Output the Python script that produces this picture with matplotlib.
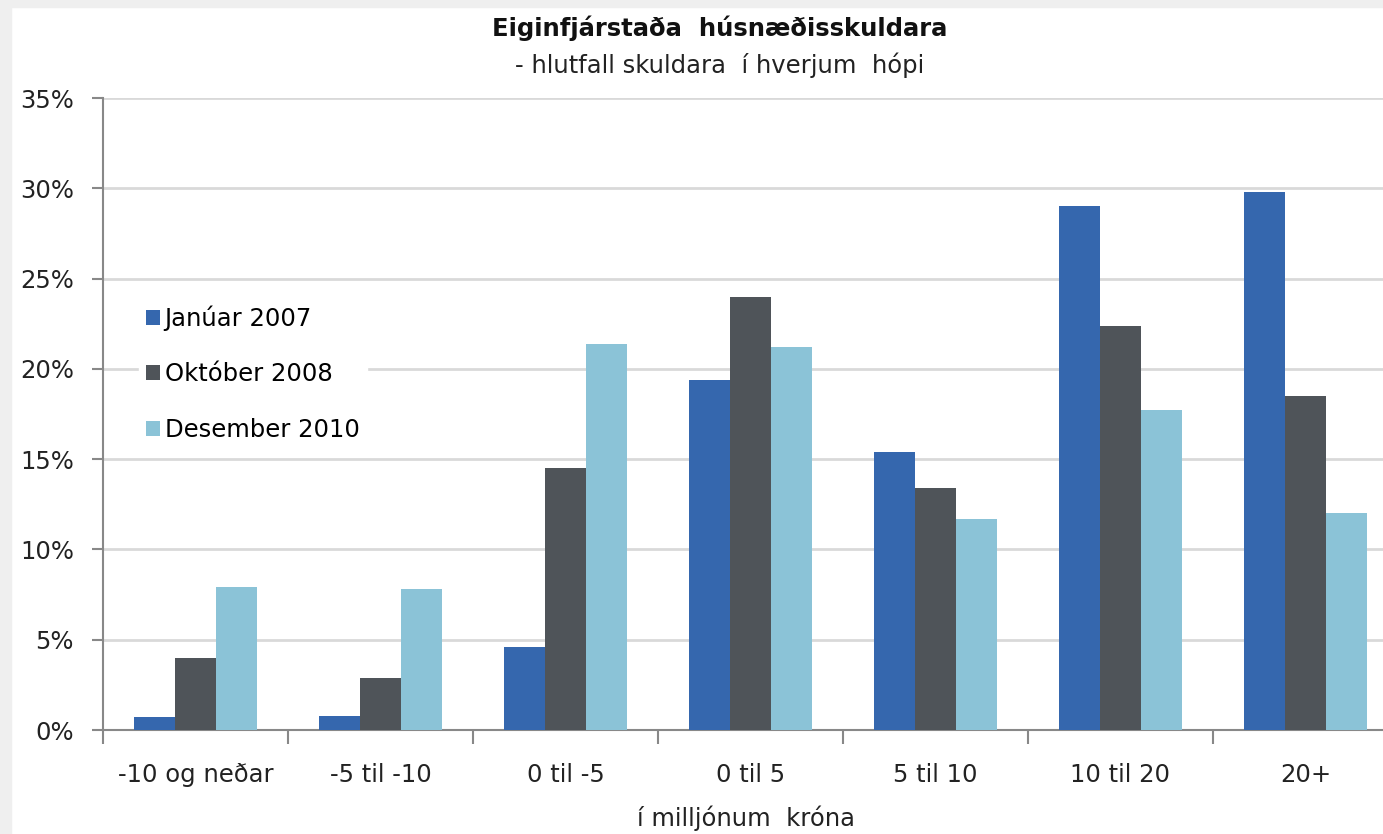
import matplotlib
matplotlib.use("Agg")
import matplotlib.pyplot as plt
import numpy as np
from matplotlib.ticker import FuncFormatter, FixedLocator
from matplotlib.patches import Rectangle

categories = ["-10 og neðar", "-5 til -10", "0 til -5", "0 til 5", "5 til 10", "10 til 20", "20+"]
series_names = ["Janúar 2007", "Október 2008", "Desember 2010"]
jan_2007 = [0.7, 0.8, 4.6, 19.4, 15.4, 29.0, 29.8]
okt_2008 = [4.0, 2.9, 14.5, 24.0, 13.4, 22.4, 18.5]
des_2010 = [7.9, 7.8, 21.4, 21.2, 11.7, 17.7, 12.0]
colors = ["#3567ae", "#4f5459", "#8bc3d7"]

plt.rcParams['font.family'] = ['DejaVu Sans']
FS = 17.5

fig = plt.figure(figsize=(13.83, 8.34), dpi=100)
fig.patch.set_facecolor("white")
# light grey frame along top and left
fig.add_artist(Rectangle((0, 0), 11/1383, 1, transform=fig.transFigure, color="#efefef", zorder=0))
fig.add_artist(Rectangle((0, 1 - 7/834), 1, 7/834, transform=fig.transFigure, color="#efefef", zorder=0))

W, H = 1383, 834
left, right, top, bottom = 103, 1398, 98, 730
ax = fig.add_axes([left / W, 1 - bottom / H, (right - left) / W, (bottom - top) / H])

x = np.arange(len(categories))
bw = 0.222
for i, (vals, c, name) in enumerate(zip([jan_2007, okt_2008, des_2010], colors, series_names)):
    ax.bar(x + (i - 1) * bw, vals, width=bw, color=c, label=name, zorder=3, linewidth=0)

ax.set_xlim(-0.5, len(categories) - 0.5)
ax.set_ylim(0, 35)
ax.yaxis.set_major_locator(FixedLocator(np.arange(0, 36, 5)))
ax.yaxis.set_major_formatter(FuncFormatter(lambda v, p: f"{int(v)}%"))
ax.grid(axis="y", color="#d9d9d9", linewidth=2, zorder=0)
ax.set_axisbelow(True)

ax.set_xticks(x)
ax.set_xticklabels(categories)
ax.set_xticks(np.arange(-0.5, len(categories), 1), minor=True)
ax.tick_params(axis="x", which="major", length=0, pad=24, labelsize=FS, colors="#222222")
ax.tick_params(axis="x", which="minor", length=10, width=1.5, color="#888888", direction="out")
ax.tick_params(axis="y", length=8, width=1.5, color="#888888", labelsize=FS, labelcolor="#222222", pad=13)

for s in ["top", "right"]:
    ax.spines[s].set_visible(False)
for s in ["left", "bottom"]:
    ax.spines[s].set_color("#888888")
    ax.spines[s].set_linewidth(1.5)

leg = ax.legend(loc="upper left", bbox_to_anchor=(139 / W, 1 - 298 / H), bbox_transform=fig.transFigure,
                frameon=True, fontsize=FS, handlelength=0.55, handleheight=0.55, handletextpad=0.2,
                labelspacing=1.3, borderpad=0.3, borderaxespad=0)
leg.get_frame().set_edgecolor("white")
leg.get_frame().set_facecolor("white")
leg.get_frame().set_alpha(1)
leg.set_zorder(5)

fig.text(720 / W, 1 - 28 / H, "Eiginfjárstaða  húsnæðisskuldara", ha="center", va="center",
         fontsize=FS, fontweight="bold", color="#111111")
fig.text(720 / W, 1 - 65 / H, "- hlutfall skuldara  í hverjum  hópi", ha="center", va="center",
         fontsize=FS, color="#222222")
fig.text(746 / W, 1 - 818 / H, "í milljónum  króna", ha="center", va="center",
         fontsize=FS, color="#222222")

fig.savefig("out.png", dpi=100)
